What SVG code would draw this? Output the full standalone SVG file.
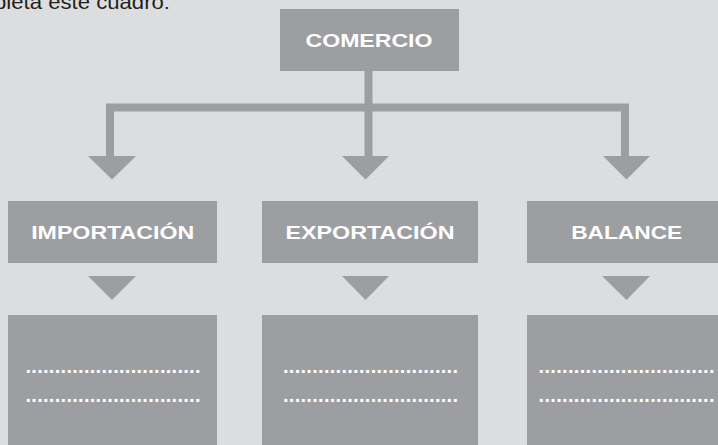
<svg xmlns="http://www.w3.org/2000/svg" width="718" height="445" viewBox="0 0 718 445">
  <style>
    .box { fill: #9d9ea1; }
    .conn { fill: none; stroke: #9d9ea1; stroke-width: 8; stroke-linejoin: miter; stroke-linecap: butt; }
    .head { fill: #9d9ea1; }
    .label { font-family: "Liberation Sans", "DejaVu Sans", sans-serif; font-weight: bold; font-size: 19px; fill: #ffffff; text-anchor: middle; }
    .dots { font-family: "Liberation Sans", "DejaVu Sans", sans-serif; font-weight: bold; font-size: 20px; fill: #ffffff; }
    .title { font-family: "Liberation Sans", "DejaVu Sans", sans-serif; font-size: 20px; fill: #231f20; }
  </style>
  <rect x="0" y="0" width="718" height="445" fill="#dcdddf"/>
  <text class="title" x="-6" y="9" textLength="176" lengthAdjust="spacingAndGlyphs">pleta este cuadro:</text>

  <g id="connectors">
    <path class="conn" d="M368.5,71 V156 M110,156 V107.5 H625 V156"/>
    <polygon class="head" points="88,156 136,156 112,179.5"/>
    <polygon class="head" points="342,156 389,156 365.5,179.5"/>
    <polygon class="head" points="603,156 650,156 626.5,179.5"/>
    <polygon class="head" points="88,276 136,276 112,300"/>
    <polygon class="head" points="342,276 389,276 365.5,300"/>
    <polygon class="head" points="602,276 650,276 626.5,300"/>
  </g>

  <g id="comercio">
    <rect class="box" x="280" y="9" width="179" height="62"/>
    <text class="label" x="369" y="46.5" textLength="127" lengthAdjust="spacingAndGlyphs">COMERCIO</text>
  </g>

  <g id="importacion">
    <rect class="box" x="8" y="201" width="209" height="62"/>
    <text class="label" x="112.7" y="239.3" textLength="163" lengthAdjust="spacingAndGlyphs">IMPORTACIÓN</text>
  </g>
  <g id="exportacion">
    <rect class="box" x="262" y="201" width="216" height="62"/>
    <text class="label" x="370" y="239.3" textLength="169" lengthAdjust="spacingAndGlyphs">EXPORTACIÓN</text>
  </g>
  <g id="balance">
    <rect class="box" x="527" y="201" width="191" height="62"/>
    <text class="label" x="626.7" y="239.3" textLength="111" lengthAdjust="spacingAndGlyphs">BALANCE</text>
  </g>

  <g id="importacion-detalle">
    <rect class="box" x="8" y="315" width="209" height="130"/>
    <text class="dots" x="25.5" y="373" textLength="175" lengthAdjust="spacing">..............................</text>
    <text class="dots" x="25.5" y="402" textLength="175" lengthAdjust="spacing">..............................</text>
  </g>
  <g id="exportacion-detalle">
    <rect class="box" x="262" y="315" width="216" height="130"/>
    <text class="dots" x="283" y="373" textLength="175" lengthAdjust="spacing">..............................</text>
    <text class="dots" x="283" y="402" textLength="175" lengthAdjust="spacing">..............................</text>
  </g>
  <g id="balance-detalle">
    <rect class="box" x="527" y="315" width="191" height="130"/>
    <text class="dots" x="538.5" y="373" textLength="176" lengthAdjust="spacing">..............................</text>
    <text class="dots" x="538.5" y="402" textLength="176" lengthAdjust="spacing">..............................</text>
  </g>
</svg>
